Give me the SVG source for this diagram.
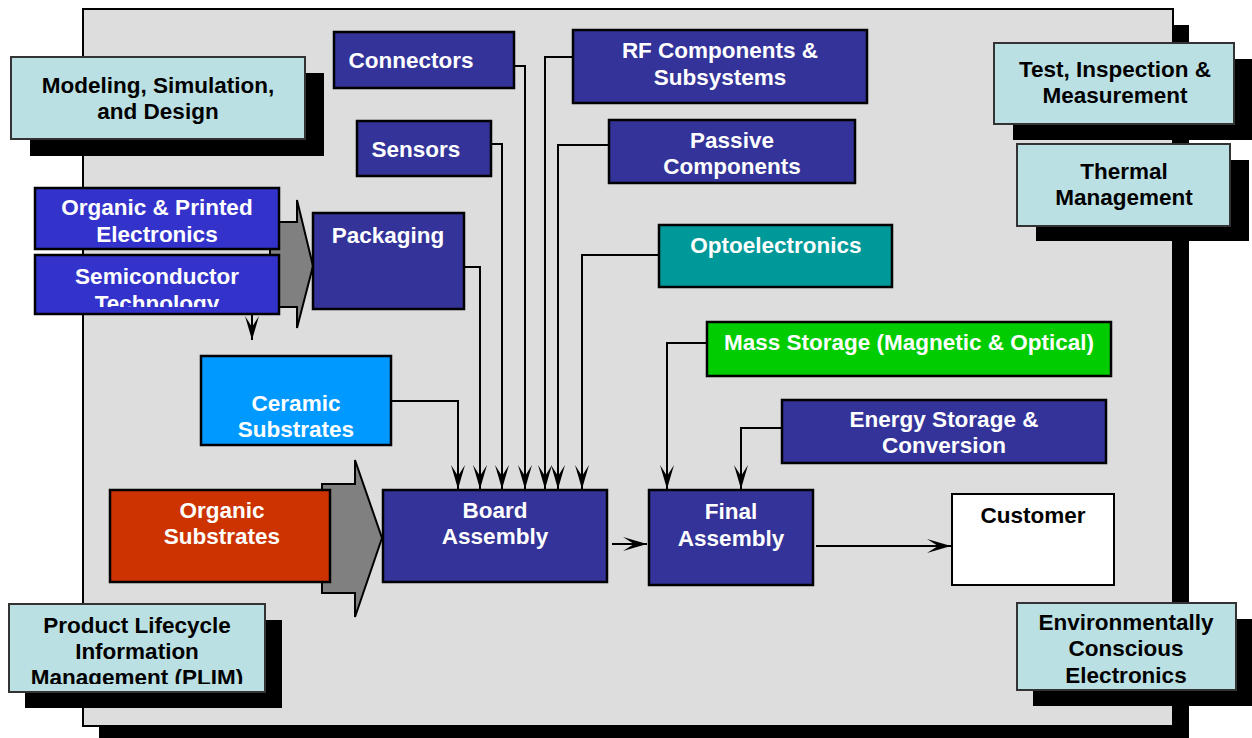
<svg xmlns="http://www.w3.org/2000/svg" width="1252" height="738" viewBox="0 0 1252 738">
<defs>
<style>
.t{font-family:"Liberation Sans",Arial,Helvetica,sans-serif;font-weight:bold;font-size:22.5px;text-anchor:middle}
.w{fill:#fff}
.k{fill:#000}
.nv{fill:#333399;stroke:#000;stroke-width:2.5}
.bl{fill:#3333cc;stroke:#000;stroke-width:2.5}
.cy{fill:#bbe0e3;stroke:#333;stroke-width:2}
.sh{fill:#000}
.ln{fill:none;stroke:#000;stroke-width:2}
.ga{fill:#808080;stroke:#000;stroke-width:2}
</style>
<marker id="ah" markerUnits="userSpaceOnUse" markerWidth="26" markerHeight="16" viewBox="-25 -8 26 16" refX="0" refY="0" orient="auto">
<path d="M0,0 L-24,-7 L-13,0 L-24,7 Z" fill="#000"/>
</marker>
<clipPath id="cSemi"><rect x="35" y="255" width="244" height="52"/></clipPath>
<clipPath id="cPlim"><rect x="9" y="604" width="256" height="80"/></clipPath>
<clipPath id="cEnv"><rect x="1017" y="603" width="219" height="80"/></clipPath>
</defs>

<g id="panel">
<rect x="99" y="25" width="1090" height="720" fill="#000"/>
<rect x="83" y="9" width="1090" height="717" fill="#dddddd" stroke="#000" stroke-width="2"/>
</g>

<g id="modeling">
<rect class="sh" x="30" y="73" width="294" height="83"/>
<rect class="cy" x="11" y="57" width="294" height="82"/>
<text class="t k" x="158" y="93">Modeling, Simulation,</text>
<text class="t k" x="158" y="119">and Design</text>
</g>

<g id="test">
<rect class="sh" x="1013" y="59" width="241" height="81"/>
<rect class="cy" x="994" y="43" width="240" height="81"/>
<text class="t k" x="1115" y="77">Test, Inspection &amp;</text>
<text class="t k" x="1115" y="103">Measurement</text>
</g>

<g id="thermal">
<rect class="sh" x="1036" y="160" width="213" height="81"/>
<rect class="cy" x="1017" y="144" width="213" height="82"/>
<text class="t k" x="1124" y="179">Thermal</text>
<text class="t k" x="1124" y="205">Management</text>
</g>

<g id="plim">
<rect class="sh" x="25" y="620" width="257" height="88"/>
<rect class="cy" x="9" y="604" width="256" height="88"/>
<g clip-path="url(#cPlim)">
<text class="t k" x="137" y="633">Product Lifecycle</text>
<text class="t k" x="137" y="659">Information</text>
<text class="t k" x="137" y="685">Management (PLIM)</text>
</g>
</g>

<g id="env">
<rect class="sh" x="1033" y="619" width="222" height="87"/>
<rect class="cy" x="1017" y="603" width="219" height="87"/>
<g clip-path="url(#cEnv)">
<text class="t k" x="1126" y="630">Environmentally</text>
<text class="t k" x="1126" y="656">Conscious</text>
<text class="t k" x="1126" y="683">Electronics</text>
</g>
</g>

<g id="bigArrows">
<polygon class="ga" points="270,222 297,222 297,200 313,266 297,328 297,307 270,307"/>
<polygon class="ga" points="322,484 355,484 355,460 382,538 355,617 355,593 322,593"/>
</g>

<g id="organicPrinted">
<rect class="bl" x="35" y="188" width="244" height="61"/>
<text class="t w" x="157" y="215">Organic &amp; Printed</text>
<text class="t w" x="157" y="242">Electronics</text>
</g>

<g id="semiconductor">
<rect class="bl" x="35" y="255" width="244" height="59"/>
<g clip-path="url(#cSemi)">
<text class="t w" x="157" y="284">Semiconductor</text>
<text class="t w" x="157" y="311">Technology</text>
</g>
</g>

<g id="packaging">
<rect class="nv" x="313" y="213" width="151" height="96"/>
<text class="t w" x="388" y="243">Packaging</text>
</g>

<g id="connectorsNode">
<rect class="nv" x="334" y="32" width="180" height="56"/>
<text class="t w" x="411" y="68">Connectors</text>
</g>

<g id="sensors">
<rect class="nv" x="357" y="121" width="134" height="55"/>
<text class="t w" x="416" y="157">Sensors</text>
</g>

<g id="rf">
<rect class="nv" x="573" y="30" width="294" height="73"/>
<text class="t w" x="720" y="58">RF Components &amp;</text>
<text class="t w" x="720" y="85">Subsystems</text>
</g>

<g id="passive">
<rect class="nv" x="609" y="120" width="246" height="63"/>
<text class="t w" x="732" y="148">Passive</text>
<text class="t w" x="732" y="174">Components</text>
</g>

<g id="opto">
<rect x="659" y="225" width="233" height="62" fill="#009999" stroke="#000" stroke-width="2.5"/>
<text class="t w" x="776" y="253">Optoelectronics</text>
</g>

<g id="mass">
<rect x="707" y="322" width="404" height="54" fill="#00cc00" stroke="#000" stroke-width="2.5"/>
<text class="t w" x="909" y="350">Mass Storage (Magnetic &amp; Optical)</text>
</g>

<g id="energy">
<rect class="nv" x="782" y="400" width="324" height="63"/>
<text class="t w" x="944" y="427">Energy Storage &amp;</text>
<text class="t w" x="944" y="453">Conversion</text>
</g>

<g id="ceramic">
<rect x="201" y="356" width="190" height="89" fill="#0099ff" stroke="#000" stroke-width="2.5"/>
<text class="t w" x="296" y="411">Ceramic</text>
<text class="t w" x="296" y="437">Substrates</text>
</g>

<g id="organicSub">
<rect x="110" y="490" width="220" height="92" fill="#cc3300" stroke="#000" stroke-width="2.5"/>
<text class="t w" x="222" y="518">Organic</text>
<text class="t w" x="222" y="544">Substrates</text>
</g>

<g id="board">
<rect class="nv" x="383" y="490" width="224" height="92"/>
<text class="t w" x="495" y="518">Board</text>
<text class="t w" x="495" y="544">Assembly</text>
</g>

<g id="final">
<rect class="nv" x="649" y="490" width="164" height="95"/>
<text class="t w" x="731" y="519">Final</text>
<text class="t w" x="731" y="546">Assembly</text>
</g>

<g id="customer">
<rect x="952" y="494" width="162" height="91" fill="#fff" stroke="#000" stroke-width="2"/>
<text class="t k" x="1033" y="523">Customer</text>
</g>

<g id="connectors">
<path class="ln" marker-end="url(#ah)" d="M391,401 H458 V489"/>
<path class="ln" marker-end="url(#ah)" d="M464,267 H480 V489"/>
<path class="ln" marker-end="url(#ah)" d="M491,144 H502 V489"/>
<path class="ln" marker-end="url(#ah)" d="M514,66 H525 V489"/>
<path class="ln" marker-end="url(#ah)" d="M573,57 H545 V489"/>
<path class="ln" marker-end="url(#ah)" d="M609,145 H558 V489"/>
<path class="ln" marker-end="url(#ah)" d="M659,255 H582 V489"/>
<path class="ln" marker-end="url(#ah)" d="M707,343 H667 V489"/>
<path class="ln" marker-end="url(#ah)" d="M782,428 H741 V489"/>
<path class="ln" marker-end="url(#ah)" d="M612,544 H647"/>
<path class="ln" marker-end="url(#ah)" d="M816,546 H951"/>
<path class="ln" marker-end="url(#ah)" d="M252,315 V340"/>
</g>
</svg>
